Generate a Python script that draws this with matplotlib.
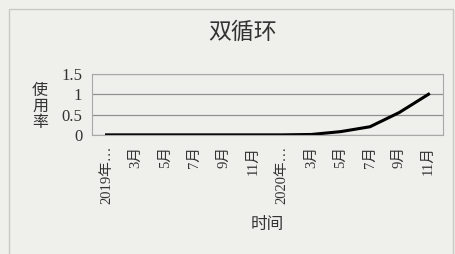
import matplotlib.pyplot as plt
from matplotlib.patches import Rectangle

plt.rcParams['font.family'] = ['Liberation Serif', 'Noto Sans CJK SC']

months = ['2019年…', '3月', '5月', '7月', '9月', '11月',
          '2020年…', '3月', '5月', '7月', '9月', '11月']
usage = [0, 0, 0, 0, 0, 0, 0, 0.01, 0.08, 0.2, 0.55, 1.0]
yticks = [0, 0.5, 1, 1.5]

bg = '#efefeb'
fig = plt.figure(figsize=(4.55, 2.54), dpi=100, facecolor=bg)
ax = fig.add_axes([0.202, 0.469, 0.772, 0.24])
ax.set_facecolor(bg)

x = list(range(len(months)))
ax.plot(x, usage, color='black', linewidth=2.2)

ax.set_xlim(-0.5, len(months) - 0.5)
ax.set_ylim(0, 1.5)
ax.set_yticks(yticks)
ax.set_yticklabels(['0', '0.5', '1', '1.5'], fontsize=12, color='#333333')
ax.set_xticks(x)
ax.set_xticklabels(months, rotation=90, fontsize=10.5, color='#333333')
ax.tick_params(axis='y', length=0, pad=7)
ax.tick_params(axis='x', length=0, pad=8)
ax.grid(axis='y', color='#909090', linewidth=0.9)
for s in ax.spines.values():
    s.set_color('#a8a8a8')
    s.set_linewidth(0.8)

ax.set_xlabel('时间', fontsize=12, color='#333333', labelpad=9)
fig.text(243 / 455, 1 - 33 / 254, '双循环', fontsize=16.5, color='#333333',
         ha='center', va='center')
fig.text(40 / 455, 1 - 107 / 254, '使\n用\n率', fontsize=11.5, color='#333333',
         ha='center', va='center', linespacing=1.0)

fig.patches.append(Rectangle((9 / 455, -0.02), 0.975, 1 - 9 / 254 + 0.02,
                             transform=fig.transFigure, fill=False,
                             edgecolor='#c8c8c4', linewidth=1))

plt.savefig('out.png', dpi=100, facecolor=bg)
